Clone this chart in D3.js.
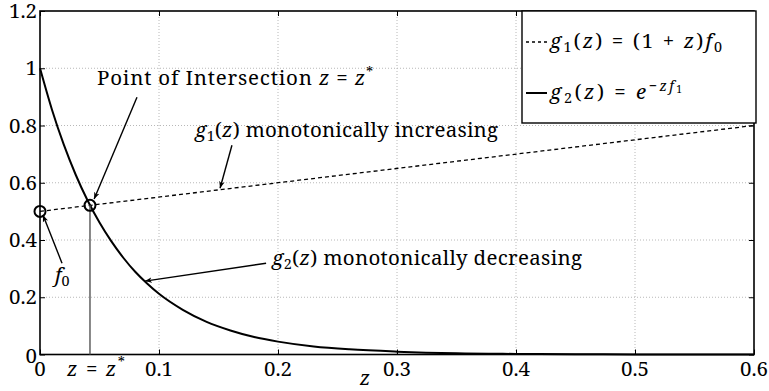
<!DOCTYPE html>
<html>
<head>
<meta charset="utf-8">
<script src="https://cdn.jsdelivr.net/npm/d3@7"></script>
<style>
  html, body { margin: 0; padding: 0; background: #fff; }
  svg { display: block; }
</style>
</head>
<body>
<svg id="chart" width="769" height="391"></svg>
<script>
// ---- data ----
const zTicks = [0, 0.1, 0.2, 0.3, 0.4, 0.5, 0.6];
const zTickLabels = ["0", "0.1", "0.2", "0.3", "0.4", "0.5", "0.6"];
const yTicks = [0, 0.2, 0.4, 0.6, 0.8, 1.0, 1.2];
const yTickLabels = ["0", "0.2", "0.4", "0.6", "0.8", "1", "1.2"];

// g1(z) = (1 + z) f0 : straight line
const g1Z = [0, 0.6];
const g1Vals = [0.5, 0.8];

// g2(z) = exp(-z f1) : decaying curve
const g2Z = [0, 0.01, 0.02, 0.03, 0.04, 0.05, 0.06, 0.07, 0.08, 0.09, 0.10, 0.12, 0.14, 0.16, 0.18, 0.20, 0.23, 0.26, 0.30, 0.35, 0.40, 0.45, 0.50, 0.55, 0.60];
const g2Vals = [1.0, 0.856, 0.733, 0.628, 0.538, 0.461, 0.395, 0.338, 0.289, 0.248, 0.212, 0.156, 0.114, 0.084, 0.061, 0.045, 0.028, 0.018, 0.010, 0.004, 0.002, 0.001, 0.0004, 0.0002, 0.0001];

// marked points
const f0Point = [0, 0.5];
const zStarPoint = [0.042, 0.521];

// ---- layout ----
const svg = d3.select("#chart");
const plotL = 40, plotR = 754, plotT = 11, plotB = 354.5;
const FS = 20.5;
const FONT = "'Noto Serif', 'DejaVu Serif', serif";

const x = d3.scaleLinear().domain([0, 0.6]).range([plotL, plotR]);
const y = d3.scaleLinear().domain([0, 1.2]).range([plotB, plotT]);

// arrowhead
svg.append("defs").append("marker")
  .attr("id", "arrow").attr("viewBox", "0 0 10 10")
  .attr("refX", 10).attr("refY", 5)
  .attr("markerWidth", 7).attr("markerHeight", 7)
  .attr("markerUnits", "userSpaceOnUse")
  .attr("orient", "auto")
  .append("path").attr("d", "M0,1 L10,5 L0,9 L3,5 Z").attr("fill", "#000");

// grid
const grid = svg.append("g").attr("stroke", "#b8b8b8").attr("stroke-width", 1).attr("stroke-dasharray", "1,2");
grid.selectAll("line.gx").data(zTicks.slice(1, -1)).join("line")
  .attr("x1", d => x(d)).attr("x2", d => x(d)).attr("y1", plotT).attr("y2", plotB);
grid.selectAll("line.gy").data(yTicks.slice(1, -1)).join("line")
  .attr("x1", plotL).attr("x2", plotR).attr("y1", d => y(d)).attr("y2", d => y(d));

// axes (ticks inside, on all four sides)
const tickLen = 5;
const axB = svg.append("g").attr("transform", `translate(0,${plotB})`)
  .call(d3.axisBottom(x).tickValues(zTicks).tickSize(-tickLen).tickFormat(""));
const axT = svg.append("g").attr("transform", `translate(0,${plotT})`)
  .call(d3.axisTop(x).tickValues(zTicks).tickSize(-tickLen).tickFormat(""));
const axL = svg.append("g").attr("transform", `translate(${plotL},0)`)
  .call(d3.axisLeft(y).tickValues(yTicks).tickSize(-tickLen).tickFormat(""));
const axR = svg.append("g").attr("transform", `translate(${plotR},0)`)
  .call(d3.axisRight(y).tickValues(yTicks).tickSize(-tickLen).tickFormat(""));
[axB, axT, axL, axR].forEach(a => {
  a.select(".domain").remove();
  a.selectAll(".tick line").attr("stroke", "#000").attr("stroke-width", 1);
});

// tick labels
svg.append("g").selectAll("text").data(zTicks).join("text")
  .attr("x", d => x(d)).attr("y", plotB + 21)
  .attr("text-anchor", "middle")
  .style("font-family", FONT).style("font-size", FS + "px")
  .text((d, i) => zTickLabels[i]);
svg.append("g").selectAll("text").data(yTicks).join("text")
  .attr("x", plotL - 3).attr("y", d => d === 0 ? y(d) + 8 : y(d) + 7)
  .attr("text-anchor", "end")
  .style("font-family", FONT).style("font-size", FS + "px")
  .text((d, i) => yTickLabels[i]);

// frame
svg.append("rect").attr("x", plotL).attr("y", plotT)
  .attr("width", plotR - plotL).attr("height", plotB - plotT)
  .attr("fill", "none").attr("stroke", "#000").attr("stroke-width", 1.6);

// rich text helper: segments with italic / sup / sub; optional total width or letter spacing
function richText(parent, px, py, segs, size, width, spacing) {
  const t = parent.append("text").attr("x", px).attr("y", py)
    .style("font-family", FONT).style("font-size", size + "px");
  if (width) t.attr("textLength", width).attr("lengthAdjust", "spacing");
  if (spacing) t.style("letter-spacing", spacing + "px");
  let cur = 0;
  segs.forEach(s => {
    let shift = 0, fs = size;
    if (s.sup) { shift = -0.4 * size; fs = 0.7 * size; }
    if (s.sub) { shift = 0.2 * size; fs = 0.7 * size; }
    if (s.supsub) { shift = -0.28 * size; fs = 0.5 * size; }
    const ts = t.append("tspan").attr("dy", shift - cur).style("font-size", fs + "px").text(s.t);
    if (s.i) ts.style("font-style", "italic");
    cur = shift;
  });
  return t;
}

// curves
const lineGen = d3.line().x(d => x(d[0])).y(d => y(d[1]));
svg.append("path")
  .datum(g1Z.map((z, i) => [z, g1Vals[i]]))
  .attr("d", lineGen)
  .attr("fill", "none").attr("stroke", "#000").attr("stroke-width", 1.3)
  .attr("stroke-dasharray", "4,3");

svg.append("path")
  .datum(g2Z.map((z, i) => [z, g2Vals[i]]))
  .attr("d", lineGen.curve(d3.curveMonotoneX))
  .attr("fill", "none").attr("stroke", "#000").attr("stroke-width", 2);

// vertical drop line at z*
svg.append("line")
  .attr("x1", x(zStarPoint[0])).attr("x2", x(zStarPoint[0]))
  .attr("y1", y(0)).attr("y2", y(zStarPoint[1]))
  .attr("stroke", "#555").attr("stroke-width", 1.4);

// circled points
svg.append("g").selectAll("circle").data([f0Point, zStarPoint]).join("circle")
  .attr("cx", d => x(d[0])).attr("cy", d => y(d[1])).attr("r", 5.5)
  .attr("fill", "none").attr("stroke", "#000").attr("stroke-width", 2);

// annotations (data coordinates)
const arrows = [
  { from: [0.0815, 0.899], to: [0.0455, 0.543] },
  { from: [0.1613, 0.731], to: [0.1513, 0.581] },
  { from: [0.190, 0.319], to: [0.0882, 0.2565] },
  { from: [0.0185, 0.319], to: [0.0025, 0.487] }
];
svg.append("g").selectAll("line").data(arrows).join("line")
  .attr("x1", d => x(d.from[0])).attr("y1", d => y(d.from[1]))
  .attr("x2", d => x(d.to[0])).attr("y2", d => y(d.to[1]))
  .attr("stroke", "#000").attr("stroke-width", 1.4)
  .attr("marker-end", "url(#arrow)");

const ann = svg.append("g");
richText(ann, x(0.0479), y(0.9407), [
  { t: "Point of Intersection " }, { t: "z", i: true }, { t: " = " }, { t: "z", i: true }, { t: "*", sup: true }
], FS, null, 0.8);
richText(ann, x(0.1303), y(0.7592), [
  { t: "g", i: true }, { t: "1", sub: true }, { t: "(" }, { t: "z", i: true }, { t: ") monotonically increasing" }
], FS, 303);
richText(ann, x(0.195), y(0.3124), [
  { t: "g", i: true }, { t: "2", sub: true }, { t: "(" }, { t: "z", i: true }, { t: ") monotonically decreasing" }
], FS, 310);
richText(ann, x(0.0126), y(0.253), [
  { t: "f", i: true }, { t: "0", sub: true }
], FS);
richText(ann, x(0.0227), y(0) + 21, [
  { t: "z", i: true }, { t: " = " }, { t: "z", i: true }, { t: "*", sup: true }
], FS, 58);

// axis label
svg.append("text").attr("x", 365).attr("y", 385)
  .attr("text-anchor", "middle")
  .style("font-family", FONT).style("font-size", FS + "px").style("font-style", "italic")
  .text("z");

// legend
const lg = svg.append("g");
lg.append("rect").attr("x", 522).attr("y", plotT).attr("width", 234).attr("height", 112)
  .attr("fill", "#fff").attr("stroke", "#000").attr("stroke-width", 1.4);
lg.append("line").attr("x1", 526).attr("x2", 547).attr("y1", 42).attr("y2", 42)
  .attr("stroke", "#000").attr("stroke-width", 1.3).attr("stroke-dasharray", "3,3");
lg.append("line").attr("x1", 526).attr("x2", 547).attr("y1", 93).attr("y2", 93)
  .attr("stroke", "#000").attr("stroke-width", 2);
richText(lg, 550, 48, [
  { t: "g", i: true }, { t: "1", sub: true }, { t: "(" }, { t: "z", i: true }, { t: ") = (1 + " },
  { t: "z", i: true }, { t: ")" }, { t: "f", i: true }, { t: "0", sub: true }
], FS, 172);
richText(lg, 550, 99, [
  { t: "g", i: true }, { t: "2", sub: true }, { t: "(" }, { t: "z", i: true }, { t: ") = " },
  { t: "e", i: true }, { t: "−", sup: true }, { t: "zf", sup: true, i: true }, { t: "1", supsub: true }
], FS, 132);
</script>
</body>
</html>
